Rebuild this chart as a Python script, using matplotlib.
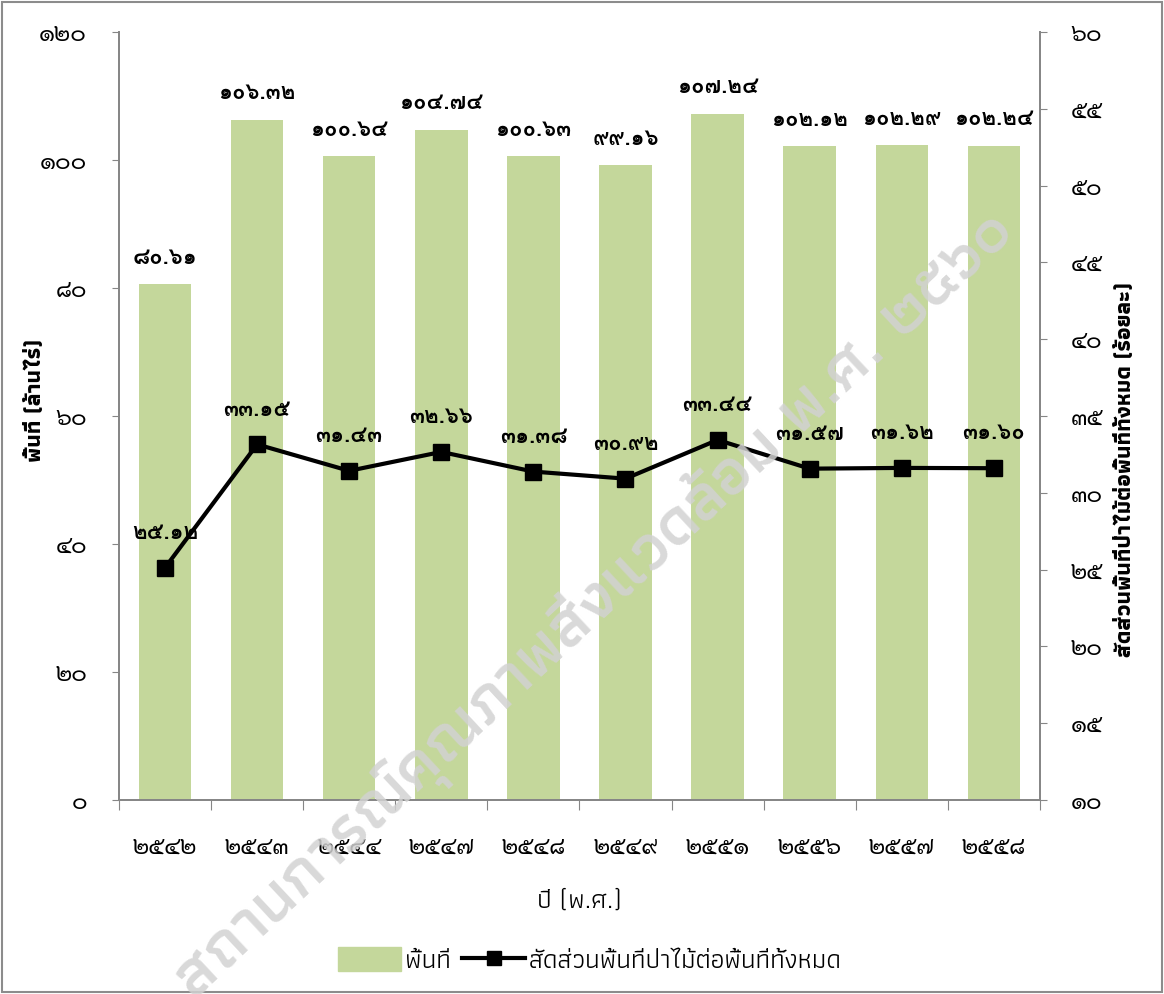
import matplotlib
matplotlib.use("Agg")
import matplotlib.pyplot as plt
from matplotlib.lines import Line2D
from matplotlib.patches import Patch

# ---------------- data ----------------
years = ["2542", "2543", "2544", "2547", "2548", "2549", "2551", "2556", "2557", "2558"]
area = [80.61, 106.32, 100.64, 104.74, 100.63, 99.16, 107.24, 102.12, 102.29, 102.24]
ratio = [25.12, 33.15, 31.43, 32.66, 31.38, 30.92, 33.44, 31.57, 31.62, 31.60]
left_ticks = [0, 20, 40, 60, 80, 100, 120]
right_ticks = [10, 15, 20, 25, 30, 35, 40, 45, 50, 55, 60]

bar_name = "พื้นที่"
line_name = "สัดส่วนพื้นที่ป่าไม้ต่อพื้นที่ทั้งหมด"
left_label = "พื้นที่ (ล้านไร่)"
right_label = "สัดส่วนพื้นที่ป่าไม้ต่อพื้นที่ทั้งหมด (ร้อยละ)"
x_label = "ปี (พ.ศ.)"
watermark = "สถานการณ์คุณภาพสิ่งแวดล้อม พ.ศ. ๒๕๖๐"

TH = str.maketrans("0123456789", "๐๑๒๓๔๕๖๗๘๙")
def th(s):
    return str(s).translate(TH)

F_BOLD = ["Loma", "DejaVu Sans"]
F_TICK = ["Sarabun", "Laksaman", "Loma", "DejaVu Sans"]
F_TEXT = ["Athiti", "Kanit", "Loma", "DejaVu Sans"]
plt.rcParams["font.family"] = F_BOLD

# ---------------- figure ----------------
fig = plt.figure(figsize=(11.64, 9.94), dpi=100)
ax = fig.add_axes([0.1022, 0.1952, 0.7912, 0.7726])
ax2 = ax.twinx()

x = list(range(len(years)))
grey = "#868686"
green = "#C4D79B"
ax.bar(x, area, width=0.57, color=green, zorder=2)
ax.set_xlim(-0.5, len(years) - 0.5)
ax.set_ylim(0, 120)
ax.set_yticks(left_ticks)
ax.set_yticklabels([th(t) for t in left_ticks], fontsize=17, family=F_TICK)

ax.set_xticks([i - 0.5 for i in range(len(years) + 1)])
ax.set_xticklabels([])
ax.set_xticks(x, minor=True)
ax.set_xticklabels([th(y) for y in years], minor=True, fontsize=17, family=F_TICK)
ax.tick_params(axis="x", which="major", length=7, color=grey, direction="out")
ax.tick_params(axis="x", which="minor", length=0, pad=26)
ax.tick_params(axis="y", length=5, color=grey, pad=18)

ax2.plot(x, ratio, color="black", lw=3, marker="s", markersize=12, zorder=3)
ax2.set_ylim(10, 60)
ax2.set_yticks(right_ticks)
ax2.set_yticklabels([th(t) for t in right_ticks], fontsize=17, family=F_TICK)
ax2.tick_params(axis="y", length=5, color=grey, pad=17)

for a in (ax, ax2):
    a.spines["top"].set_visible(False)
    for s in ("left", "right", "bottom"):
        a.spines[s].set_color(grey)
        a.spines[s].set_linewidth(1.3)

for xi, v in zip(x, area):
    ax.annotate(th(f"{v:.2f}"), (xi, v), xytext=(0, 19), textcoords="offset points",
                ha="center", va="center", fontsize=16, fontweight="bold", family=F_BOLD)
for xi, v in zip(x, ratio):
    ax2.annotate(th(f"{v:.2f}"), (xi, v), xytext=(0, 25), textcoords="offset points",
                 ha="center", va="center", fontsize=16, fontweight="bold", family=F_BOLD)

ax.set_ylabel(left_label, fontsize=16, fontweight="bold", family=F_TEXT)
ax.yaxis.set_label_coords(-0.080, 0.52)
ax2.set_ylabel(right_label, fontsize=16, fontweight="bold", rotation=90, family=F_TEXT)
ax2.yaxis.set_label_coords(1.082, 0.43)
ax.set_xlabel(x_label, fontsize=19, family=F_TEXT)
ax.xaxis.set_label_coords(0.5, -0.117)

handles = [Patch(color=green),
           Line2D([], [], color="black", lw=3, marker="s", markersize=10)]
fig.legend(handles, [bar_name, line_name], loc="center", bbox_to_anchor=(0.507, 0.034),
           ncol=2, frameon=False, prop={"family": F_TEXT, "size": 19},
           handlelength=2.4, handleheight=1.0, handletextpad=0.15, columnspacing=0.4)

fig.text(0.511, 0.391, watermark, rotation=43, fontsize=48, color="#d2d2d2",
         fontweight="semibold", ha="center", va="center", alpha=0.85, zorder=10, family=F_TEXT)

# frame
fig.patches.append(plt.Rectangle((0.002, 0.002), 0.996, 0.996, transform=fig.transFigure,
                                 fill=False, edgecolor="#8c8c8c", lw=1.5))
fig.savefig("out.png", dpi=100)
